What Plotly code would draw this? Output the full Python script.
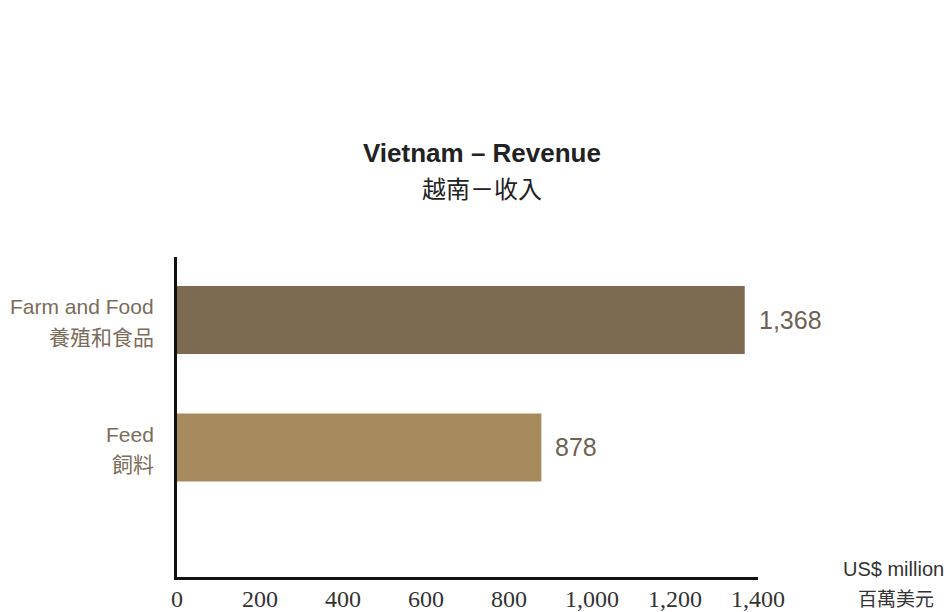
import plotly.graph_objects as go

categories_en = ["Feed", "Farm and Food"]
categories_zh = ["飼料", "養殖和食品"]
values = [878, 1368]
value_labels = ["878", "1,368"]
bar_colors = ["#a88a5f", "#7c6b50"]
x_ticks = [0, 200, 400, 600, 800, 1000, 1200, 1400]
x_tick_labels = ["0", "200", "400", "600", "800", "1,000", "1,200", "1,400"]

fig = go.Figure()
fig.add_trace(go.Bar(
    x=values, y=categories_en, orientation="h",
    marker=dict(color=bar_colors, line=dict(width=0)),
    width=0.533, hoverinfo="skip",
))

PT, PB = 257, 577  # plot top/bottom in page pixels
H = PB - PT

ann = []
for c, zh, v, lbl in zip(categories_en, categories_zh, values, value_labels):
    ann.append(dict(x=v, y=c, xref="x", yref="y", text=lbl, showarrow=False,
                    xanchor="left", yanchor="middle", xshift=12, yshift=0,
                    font=dict(family="Liberation Sans, Arial", size=25, color="#6e6353")))
    ann.append(dict(x=0, y=c, xref="paper", yref="y", text=c, showarrow=False,
                    xanchor="right", yanchor="middle", xshift=-21, yshift=13,
                    font=dict(family="Liberation Sans, Arial", size=21, color="#7a6c58")))
    ann.append(dict(x=0, y=c, xref="paper", yref="y", text=zh, showarrow=False,
                    xanchor="right", yanchor="middle", xshift=-21, yshift=-16,
                    font=dict(family="Noto Sans CJK TC", size=21, color="#7a6c58")))

ann.append(dict(x=0.525, y=(PB - 153) / H, xref="paper", yref="paper", text="<b>Vietnam – Revenue</b>",
                showarrow=False, xanchor="center", yanchor="middle",
                font=dict(family="Liberation Sans, Arial", size=26, color="#222222")))
ann.append(dict(x=0.525, y=(PB - 187) / H, xref="paper", yref="paper", text="越南－收入",
                showarrow=False, xanchor="center", yanchor="middle",
                font=dict(family="Noto Sans CJK TC", size=24, color="#222222")))
ann.append(dict(x=1, y=(PB - 569) / H, xref="paper", yref="paper", text="US$ million",
                showarrow=False, xanchor="right", yanchor="middle", xshift=188,
                font=dict(family="Liberation Sans, Arial", size=20, color="#333333")))
ann.append(dict(x=1, y=(PB - 597) / H, xref="paper", yref="paper", text="百萬美元",
                showarrow=False, xanchor="center", yanchor="middle", xshift=138,
                font=dict(family="Noto Sans CJK TC", size=19, color="#333333")))

fig.update_layout(
    width=949, height=612,
    margin=dict(l=177, r=191, t=PT, b=612 - PB),
    paper_bgcolor="white", plot_bgcolor="white",
    showlegend=False,
    annotations=ann,
    xaxis=dict(range=[0, 1400], tickvals=x_ticks, ticktext=x_tick_labels,
               showgrid=False, zeroline=False, showline=True, linecolor="#111111",
               linewidth=2.5, ticks="", ticklabelstandoff=-2, automargin=False,
               tickfont=dict(family="Liberation Serif, DejaVu Serif", size=24, color="#333333")),
    yaxis=dict(type="category", categoryarray=categories_en, range=[-1.016, 1.494],
               showgrid=False, zeroline=False, showline=True, linecolor="#111111",
               linewidth=2.5, ticks="", showticklabels=False, automargin=False),
)

fig.write_html("out.html", config={"displayModeBar": False},
               post_script="document.body.style.margin='0';document.body.style.overflow='hidden';")
